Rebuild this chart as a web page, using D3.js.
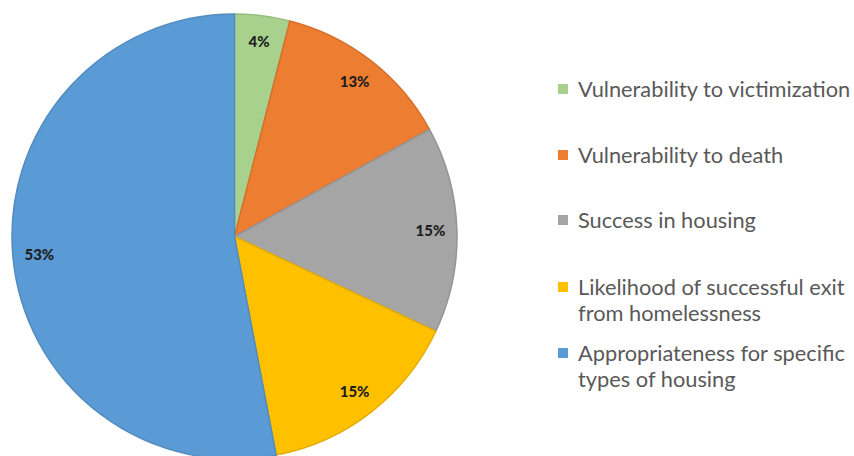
<!DOCTYPE html>
<html>
<head>
<meta charset="utf-8">
<script src="https://cdn.jsdelivr.net/npm/d3@7"></script>
<style>
  html, body { margin: 0; padding: 0; background: #ffffff; }
  svg { display: block; }
</style>
</head>
<body>
<svg id="chart" width="854" height="456"></svg>
<script>
// Share of each assessment factor (percent)
const categories = [
  "Vulnerability to victimization",
  "Vulnerability to death",
  "Success in housing",
  "Likelihood of successful exit from homelessness",
  "Appropriateness for specific types of housing"
];
const values = [4, 13, 15, 15, 53];
const percentLabels = ["4%", "13%", "15%", "15%", "53%"];
const legendLines = [
  ["Vulnerability to victimization"],
  ["Vulnerability to death"],
  ["Success in housing"],
  ["Likelihood of successful exit", "from homelessness"],
  ["Appropriateness for specific", "types of housing"]
];
const colors = ["#a9d18e", "#ed7d31", "#a5a5a5", "#ffc000", "#5b9bd5"];

const data = categories.map((c, i) => ({ name: c, value: values[i], label: percentLabels[i], lines: legendLines[i] }));

const svg = d3.select("#chart");
const cx = 234.5, cy = 236.5, R = 222.5;
const fontFamily = "Lato, 'Open Sans', 'DejaVu Sans', sans-serif";

const color = d3.scaleOrdinal().domain(categories).range(colors);

const pie = d3.pie().value(d => d.value).sort(null);
const arc = d3.arc().innerRadius(0).outerRadius(R);
const labelArc = d3.arc().innerRadius(196).outerRadius(196);

const g = svg.append("g").attr("transform", `translate(${cx},${cy})`);
const arcs = pie(data);

g.selectAll("path.slice")
  .data(arcs)
  .enter().append("path")
  .attr("class", "slice")
  .attr("d", arc)
  .attr("fill", d => color(d.data.name))
  .attr("stroke", d => d3.color(color(d.data.name)).darker(0.3))
  .attr("stroke-width", 1.5)
  .attr("stroke-linejoin", "round");

g.selectAll("text.pct")
  .data(arcs)
  .enter().append("text")
  .attr("class", "pct")
  .attr("transform", d => `translate(${labelArc.centroid(d)})`)
  .attr("text-anchor", "middle")
  .attr("dy", "0.35em")
  .attr("font-family", fontFamily)
  .attr("font-weight", 900)
  .attr("font-size", 15)
  .attr("fill", "#1e1e1e")
  .text(d => d.data.label);

// Legend
const legendTop = [89, 155, 220, 287, 353];
const lineGap = 26.5;
const lg = svg.append("g").attr("font-family", fontFamily);
data.forEach((d, i) => {
  const y = legendTop[i];
  lg.append("rect")
    .attr("x", 558).attr("y", y - 5)
    .attr("width", 10).attr("height", 10)
    .attr("fill", color(d.name));
  d.lines.forEach((line, j) => {
    lg.append("text")
      .attr("x", 578).attr("y", y + j * lineGap)
      .attr("dy", "0.35em")
      .attr("font-size", 21.8)
      .attr("fill", "#595959")
      .text(line);
  });
});
</script>
</body>
</html>
